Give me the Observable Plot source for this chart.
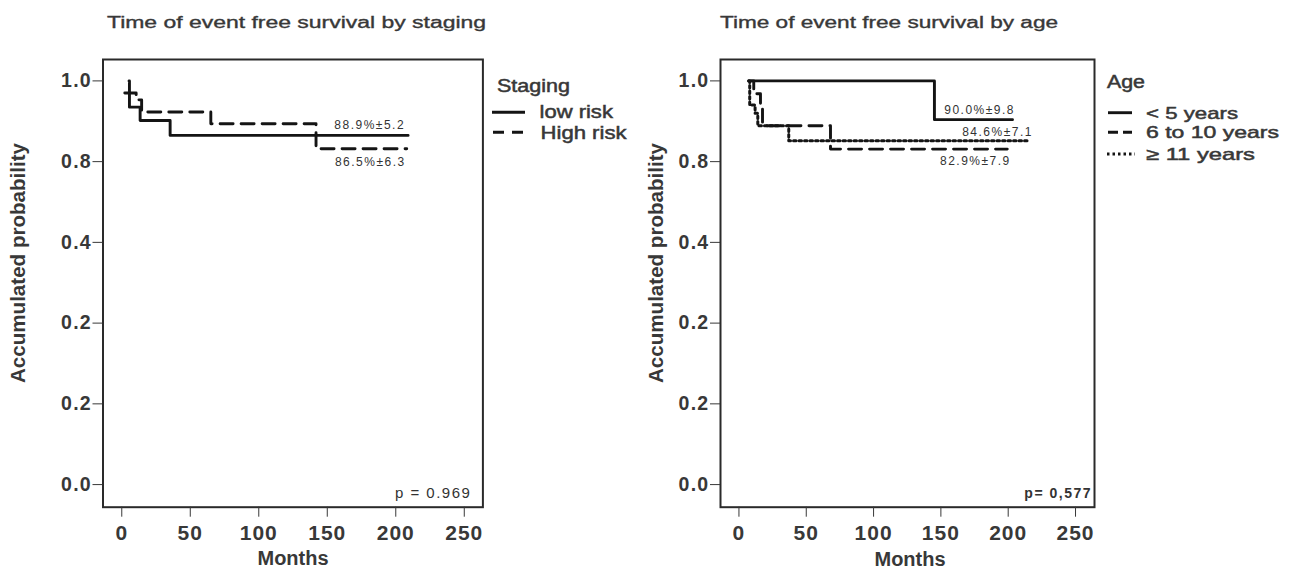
<!DOCTYPE html>
<html><head><meta charset="utf-8">
<script src="https://cdn.jsdelivr.net/npm/d3@7"></script>
<script src="https://cdn.jsdelivr.net/npm/@observablehq/plot@0.6"></script>
<style>
body{margin:0;background:#fff}
#wrap{position:relative;width:1289px;height:569px;overflow:hidden;background:#fff}
.panel{position:absolute;top:0}
#overlay{position:absolute;left:0;top:0;pointer-events:none}
</style></head><body><div id="wrap"></div>
<script>
// ---------- data ----------
const yTickValues = [0, 0.2, 0.4, 0.6, 0.8, 1.0];
const yTickLabels = ["0.0", "0.2", "0.2", "0.4", "0.8", "1.0"];
const xTickValues = [0, 50, 100, 150, 200, 250];

// Panel 1: staging
const stagingTitle = "Time of event free survival by staging";
const stagingLegendTitle = "Staging";
const stagingNames = ["low risk", "High risk"];
const lowRiskTime = [5.3, 5.6, 13.4, 35.3, 209];
const lowRiskSurv = [1.0, 0.935, 0.902, 0.865, 0.865];
const highRiskTime = [2.2, 10.5, 14.5, 65, 141.8, 208];
const highRiskSurv = [0.97, 0.953, 0.923, 0.894, 0.832, 0.832];
const stagingLabels = ["88.9%±5.2", "86.5%±6.3"];
const stagingP = "p = 0.969";

// Panel 2: age
const ageTitle = "Time of event free survival by age";
const ageLegendTitle = "Age";
const ageNames = ["< 5 years", "6 to 10 years", "≥ 11 years"];
const ageUnder5Time = [7.3, 145.2, 203.2];
const ageUnder5Surv = [1.0, 0.904, 0.904];
const age6to10Time = [7.3, 11, 16, 17.5, 68, 199.3];
const age6to10Surv = [1.0, 0.968, 0.93, 0.889, 0.831, 0.831];
const age11Time = [7.3, 8, 12, 14, 37, 215.8];
const age11Surv = [1.0, 0.94, 0.92, 0.889, 0.852, 0.852];
const ageLabels = ["90.0%±9.8", "82.9%±7.9", "84.6%±7.1"];
const ageP = "p= 0,577";

const yLabel = "Accumulated probability";
const xLabel = "Months";

// ---------- drawing ----------
const W = 1289, H = 569;
const FONT = "'Liberation Sans', Arial, Helvetica, sans-serif";
const INK = "#383838";
const LINE = "#141414";
const DASH = "13,8";
const DOT = "2.5,3";
const wrap = document.getElementById("wrap");

function survivalPanel(cfg) {
  const rows = cfg.series.flatMap(s => s.time.map((t, i) => ({name: s.name, t, p: s.surv[i]})));
  const ends = cfg.series.map((s, k) => ({t: s.time[s.time.length - 1], p: s.surv[s.surv.length - 1], text: cfg.labels[k], st: cfg.labelStyle[k]}));
  const marks = [
    Plot.frame({stroke: "#2a2a2a", strokeWidth: 2}),
    Plot.axisY(yTickValues, {tickFormat: d => yTickLabels[yTickValues.indexOf(d)], tickSize: 10, tickPadding: 1, label: null, fontSize: 19.5, fontWeight: "bold"}),
    Plot.axisX(xTickValues, {tickSize: 10, tickPadding: 8, label: null, fontSize: 21, fontWeight: "bold"}),
    ...cfg.series.map(s => Plot.line(rows.filter(r => r.name === s.name), {x: "t", y: "p", curve: "step-after", stroke: LINE, strokeWidth: s.width || 2.9, strokeDasharray: s.dash})),
    ...ends.map(e => Plot.text([e], {x: "t", y: "p", text: "text", textAnchor: "end", lineAnchor: e.st.anchor, dx: e.st.dx, dy: e.st.dy, fontSize: 12, fill: "#333"})),
    Plot.text([cfg.p], {text: d => d, frameAnchor: "bottom-right", textAnchor: "end", lineAnchor: "bottom", dx: cfg.pDx, dy: -9, fontSize: cfg.pSize, fontWeight: cfg.pWeight, fill: "#333"})
  ];
  const svg = Plot.plot({
    width: cfg.width, height: H,
    marginLeft: cfg.marginLeft, marginRight: cfg.marginRight, marginTop: 59, marginBottom: 62.3,
    x: {domain: [-13.7, cfg.xMax]},
    y: {domain: [-0.056, 1.053]},
    style: {fontFamily: FONT, background: "transparent", color: INK, overflow: "visible"},
    marks
  });
  d3.select(svg).selectAll('g[aria-label="y-axis tick label"]').style("letter-spacing", "1.3px");
  d3.select(svg).selectAll('g[aria-label="x-axis tick label"]').style("letter-spacing", "1px");
  d3.select(svg).selectAll('g[aria-label="text"]').style("letter-spacing", "1.5px");
  const div = document.createElement("div");
  div.className = "panel";
  div.style.left = cfg.left + "px";
  div.appendChild(svg);
  wrap.appendChild(div);
}

survivalPanel({
  left: 0, width: 640, marginLeft: 102.5, marginRight: 157.6, xMax: 263.6,
  series: [
    {name: stagingNames[0], time: lowRiskTime, surv: lowRiskSurv},
    {name: stagingNames[1], time: highRiskTime, surv: highRiskSurv, dash: DASH}
  ],
  labels: stagingLabels,
  labelStyle: [{anchor: "bottom", dx: -3, dy: -6.6}, {anchor: "top", dx: -1, dy: 9}],
  p: stagingP, pDx: -11.5, pSize: 15, pWeight: "normal"
});

survivalPanel({
  left: 640, width: 649, marginLeft: 80, marginRight: 195, xMax: 264.1,
  series: [
    {name: ageNames[0], time: ageUnder5Time, surv: ageUnder5Surv},
    {name: ageNames[1], time: age6to10Time, surv: age6to10Surv, dash: DASH},
    {name: ageNames[2], time: age11Time, surv: age11Surv, dash: DOT, width: 3}
  ],
  labels: ageLabels,
  labelStyle: [{anchor: "bottom", dx: 2.5, dy: -5.7}, {anchor: "top", dx: 3.5, dy: 7.7}, {anchor: "bottom", dx: 3.5, dy: -4.3}],
  p: ageP, pDx: -2.5, pSize: 14, pWeight: "bold"
});

// ---------- titles, axis labels, legends ----------
const ov = d3.select(wrap).append("svg").attr("id", "overlay").attr("width", W).attr("height", H)
  .style("font-family", FONT);

function txt(x, y, s, o) {
  const fill = o.fill || INK;
  const t = ov.append("text").attr("x", x).attr("y", y).text(s)
    .attr("font-size", o.size).attr("font-weight", o.weight || "normal")
    .attr("fill", fill).attr("text-anchor", o.anchor || "start");
  if (o.thick) t.attr("stroke", fill).attr("stroke-width", o.thick);
  if (o.len) t.attr("textLength", o.len).attr("lengthAdjust", "spacingAndGlyphs");
  if (o.rotate) t.attr("transform", `rotate(-90 ${x} ${y})`);
  return t;
}
function sample(x1, x2, y, dash, w) {
  const l = ov.append("line").attr("x1", x1).attr("x2", x2).attr("y1", y).attr("y2", y)
    .attr("stroke", LINE).attr("stroke-width", w || 2.9);
  if (dash) l.attr("stroke-dasharray", dash);
}

// titles
txt(107, 27.7, stagingTitle, {size: 16, len: 379, thick: 0.35});
txt(720, 27.7, ageTitle, {size: 16, len: 338, thick: 0.35});

// y labels
txt(24.8, 263, yLabel, {size: 20, weight: "bold", anchor: "middle", rotate: true, len: 240});
txt(662.5, 263, yLabel, {size: 20, weight: "bold", anchor: "middle", rotate: true, len: 240});

// x labels
txt(293, 565, xLabel, {size: 20, weight: "bold", anchor: "middle", len: 71});
txt(910, 566, xLabel, {size: 20, weight: "bold", anchor: "middle", len: 71});

// staging legend
txt(497, 91.7, stagingLegendTitle, {size: 18, len: 73, thick: 0.5});
sample(492, 525, 112.3);
txt(539.5, 117.7, stagingNames[0], {size: 18, len: 73.4, thick: 0.5});
sample(493, 525, 132.3, "11,8");
txt(540.5, 139.3, stagingNames[1], {size: 18, len: 86, thick: 0.5});

// age legend
txt(1107, 88.3, ageLegendTitle, {size: 18, len: 38, thick: 0.5});
sample(1108, 1132, 112.7);
txt(1146, 119, ageNames[0], {size: 17, len: 92, thick: 0.5});
sample(1108, 1132, 132.3, "10,5");
txt(1146, 138.3, ageNames[1], {size: 17, len: 133, thick: 0.5});
sample(1107, 1135, 154, DOT, 3);
txt(1146, 160, ageNames[2], {size: 17, len: 109, thick: 0.5});
</script></body></html>
